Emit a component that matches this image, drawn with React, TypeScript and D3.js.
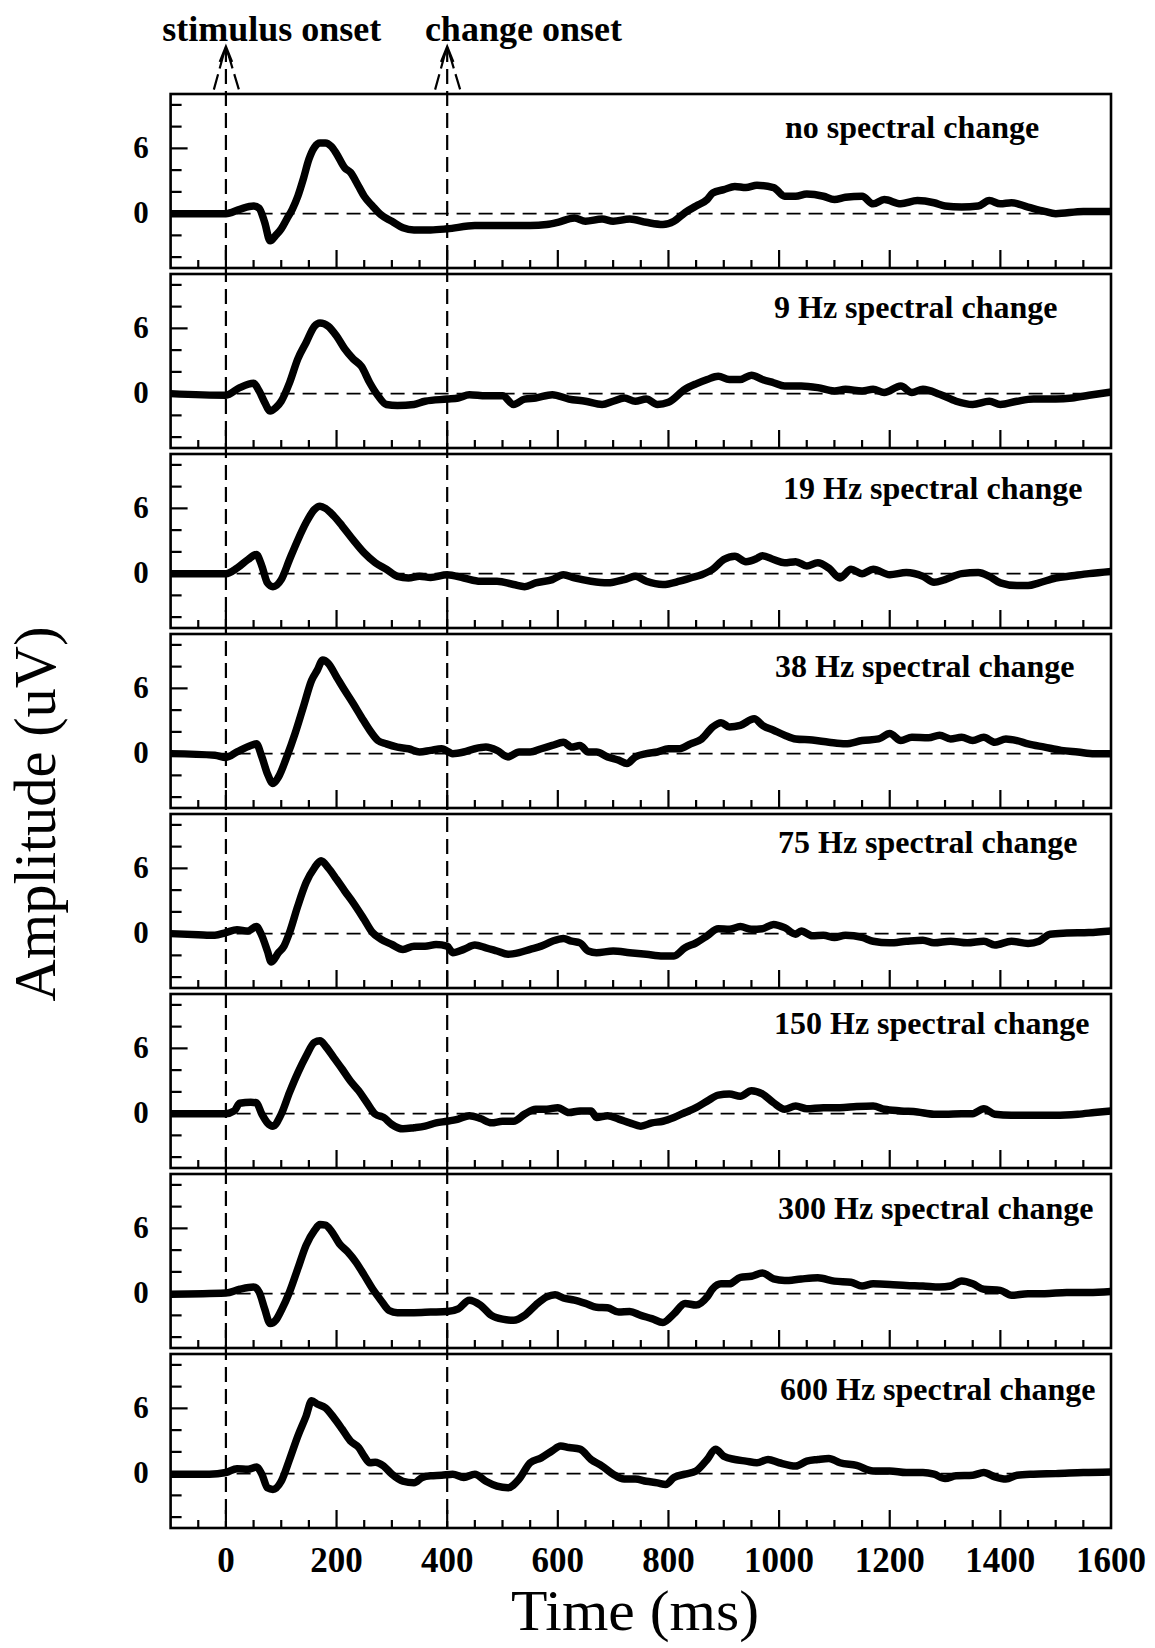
import React from "react";
import * as d3 from "d3";

// ---------- data ----------
const panelLabels = [
  "no spectral change",
  "9 Hz spectral change",
  "19 Hz spectral change",
  "38 Hz spectral change",
  "75 Hz spectral change",
  "150 Hz spectral change",
  "300 Hz spectral change",
  "600 Hz spectral change",
];

const noChange: [number, number][] = [[-100,0],[0,0],[25,0.4],[50,0.7],[60,0.5],[70,-0.8],[80,-2.5],[90,-2.0],[100,-1.4],[110,-0.5],[120,0.4],[130,1.6],[140,3.2],[150,5.0],[160,6.1],[170,6.5],[180,6.5],[190,6.2],[200,5.5],[215,4.2],[225,3.8],[240,2.5],[250,1.6],[265,0.7],[280,-0.1],[300,-0.7],[320,-1.3],[340,-1.5],[370,-1.5],[400,-1.4],[450,-1.1],[500,-1.1],[550,-1.1],[580,-1.0],[600,-0.8],[630,-0.4],[650,-0.7],[680,-0.5],[700,-0.7],[730,-0.5],[760,-0.8],[790,-1.0],[810,-0.7],[830,0.1],[850,0.7],[870,1.3],[880,1.9],[900,2.2],[920,2.5],[940,2.4],[960,2.6],[990,2.4],[1010,1.6],[1030,1.6],[1050,1.8],[1080,1.6],[1100,1.3],[1120,1.5],[1150,1.6],[1170,0.9],[1190,1.3],[1220,0.9],[1250,1.2],[1280,1.0],[1300,0.7],[1330,0.6],[1360,0.7],[1380,1.2],[1400,0.9],[1420,1.0],[1450,0.6],[1480,0.2],[1500,0],[1550,0.2],[1600,0.2]];

const hz9: [number, number][] = [[-100,0],[0,-0.15],[25,0.55],[50,0.95],[60,0.25],[70,-0.8],[80,-1.6],[90,-1.3],[100,-0.7],[115,1.0],[130,3.2],[145,4.7],[160,6.2],[170,6.5],[185,6.2],[200,5.3],[215,4.1],[230,3.2],[245,2.5],[260,1.0],[275,-0.2],[290,-1.0],[310,-1.1],[340,-1.0],[360,-0.7],[400,-0.5],[420,-0.4],[440,-0.1],[470,-0.2],[500,-0.2],[520,-1.0],[540,-0.5],[560,-0.4],[590,-0.1],[620,-0.5],[650,-0.7],[680,-1.0],[700,-0.7],[720,-0.4],[740,-0.7],[760,-0.5],[780,-1.0],[800,-0.8],[830,0.4],[850,0.9],[870,1.3],[890,1.6],[910,1.3],[930,1.3],[950,1.7],[970,1.3],[990,1.0],[1010,0.7],[1040,0.7],[1070,0.55],[1100,0.25],[1120,0.4],[1150,0.25],[1170,0.4],[1190,0.1],[1220,0.7],[1240,0.1],[1260,0.4],[1290,-0.05],[1320,-0.7],[1350,-1.0],[1380,-0.7],[1400,-1.0],[1430,-0.7],[1460,-0.5],[1500,-0.5],[1530,-0.4],[1560,-0.15],[1600,0.15]];

const hz19: [number, number][] = [[-100,0],[0,0],[20,0.5],[40,1.3],[55,1.75],[65,0.7],[75,-0.85],[85,-1.2],[100,-0.55],[115,1.3],[130,3.1],[145,4.7],[160,5.9],[170,6.2],[180,6.0],[195,5.3],[210,4.4],[230,3.1],[250,1.9],[270,1.0],[290,0.4],[310,-0.25],[330,-0.4],[350,-0.25],[370,-0.35],[400,-0.1],[430,-0.4],[460,-0.7],[490,-0.7],[520,-1.0],[540,-1.2],[560,-0.85],[590,-0.55],[610,-0.1],[630,-0.4],[660,-0.7],[690,-0.85],[720,-0.55],[740,-0.25],[760,-0.7],[790,-1.0],[820,-0.7],[840,-0.4],[860,-0.1],[880,0.4],[900,1.3],[920,1.6],[940,1.1],[960,1.4],[970,1.65],[990,1.3],[1010,1.0],[1030,1.1],[1050,0.7],[1070,1.0],[1090,0.5],[1110,-0.4],[1130,0.4],[1150,0],[1170,0.4],[1200,-0.1],[1230,0.1],[1260,-0.25],[1280,-0.8],[1300,-0.55],[1330,0],[1360,0.1],[1380,-0.25],[1400,-0.85],[1430,-1.1],[1450,-1.1],[1470,-0.85],[1500,-0.4],[1530,-0.2],[1560,0],[1600,0.2]];

const hz38: [number, number][] = [[-100,0],[-20,-0.15],[0,-0.35],[20,0.15],[45,0.75],[55,0.9],[65,-0.3],[75,-1.85],[85,-2.75],[95,-2.15],[110,-0.3],[125,1.85],[140,4.3],[155,6.75],[165,7.65],[175,8.6],[185,8.3],[200,7.05],[215,5.8],[230,4.6],[245,3.35],[260,2.15],[275,1.2],[290,0.9],[310,0.6],[330,0.45],[350,0.15],[370,0.3],[390,0.45],[410,0],[430,0.15],[450,0.45],[470,0.6],[490,0.3],[510,-0.3],[530,0.15],[550,0.15],[570,0.45],[590,0.75],[610,1.05],[625,0.6],[640,0.75],[655,0.15],[670,0.15],[690,-0.3],[710,-0.6],[725,-0.9],[740,-0.3],[760,0],[780,0.15],[800,0.45],[820,0.45],[840,0.9],[860,1.35],[880,2.45],[895,2.85],[910,2.45],[930,2.6],[955,3.2],[970,2.6],[990,2.15],[1010,1.7],[1030,1.35],[1060,1.25],[1090,1.05],[1120,0.9],[1150,1.2],[1180,1.35],[1200,1.85],[1220,1.2],[1240,1.5],[1270,1.45],[1290,1.7],[1310,1.35],[1330,1.5],[1350,1.2],[1370,1.5],[1390,1.05],[1410,1.35],[1430,1.2],[1450,0.9],[1480,0.6],[1510,0.3],[1540,0.15],[1570,0],[1600,0]];

const hz75: [number, number][] = [[-100,0],[-50,-0.1],[-20,-0.15],[0,0.1],[20,0.35],[40,0.25],[55,0.65],[65,-0.2],[75,-1.6],[82,-2.6],[95,-1.75],[105,-1.15],[115,0.1],[130,2.55],[145,4.7],[160,6.05],[172,6.7],[185,6.05],[200,5.0],[215,3.9],[230,2.85],[250,1.3],[265,0.1],[280,-0.5],[300,-1.0],[320,-1.45],[340,-1.15],[360,-1.15],[380,-1.0],[400,-1.15],[410,-1.75],[430,-1.45],[450,-1.05],[470,-1.3],[490,-1.6],[510,-1.9],[530,-1.75],[550,-1.45],[570,-1.15],[590,-0.7],[610,-0.45],[625,-0.7],[640,-0.85],[655,-1.6],[670,-1.75],[700,-1.6],[730,-1.75],[760,-1.9],[790,-2.05],[810,-2.05],[830,-1.3],[850,-0.85],[870,-0.2],[890,0.45],[910,0.4],[930,0.65],[950,0.4],[970,0.45],[990,0.85],[1010,0.55],[1030,-0.05],[1040,0.25],[1060,-0.2],[1080,-0.15],[1100,-0.35],[1120,-0.15],[1150,-0.35],[1170,-0.7],[1200,-0.85],[1230,-0.7],[1260,-0.6],[1280,-0.85],[1310,-0.7],[1340,-0.85],[1370,-0.7],[1390,-1.05],[1420,-0.7],[1450,-0.9],[1470,-0.7],[1490,-0.05],[1520,0.05],[1560,0.1],[1600,0.25]];

const hz150: [number, number][] = [[-100,0],[0,0],[15,0.25],[25,0.95],[45,1.05],[55,1.0],[65,-0.05],[75,-0.85],[85,-1.15],[100,-0.05],[115,1.95],[130,3.75],[145,5.3],[160,6.55],[170,6.7],[180,6.2],[195,5.15],[210,4.1],[225,3.0],[240,2.1],[255,1.0],[270,-0.05],[285,-0.35],[300,-1.0],[320,-1.4],[340,-1.3],[360,-1.15],[380,-0.85],[400,-0.7],[420,-0.5],[440,-0.2],[460,-0.45],[480,-0.85],[500,-0.7],[520,-0.7],[540,-0.05],[560,0.4],[580,0.4],[600,0.55],[620,0.1],[640,0.25],[660,0.25],[670,-0.35],[690,-0.2],[710,-0.5],[730,-0.85],[750,-1.15],[770,-0.85],[790,-0.7],[810,-0.35],[830,0.1],[850,0.55],[870,1.15],[890,1.7],[910,1.8],[930,1.6],[950,2.1],[970,1.8],[990,1.0],[1010,0.4],[1030,0.7],[1050,0.45],[1080,0.55],[1110,0.55],[1140,0.65],[1170,0.7],[1190,0.4],[1220,0.25],[1250,0.15],[1280,-0.05],[1300,-0.05],[1330,0],[1350,0],[1370,0.45],[1390,-0.05],[1420,-0.15],[1460,-0.15],[1500,-0.15],[1540,-0.05],[1570,0.1],[1600,0.25]];

const hz300: [number, number][] = [[-100,-0.05],[0,0.05],[25,0.4],[50,0.6],[60,0.15],[70,-1.4],[80,-2.75],[90,-2.45],[100,-1.55],[115,0.15],[130,2.3],[145,4.45],[160,5.8],[170,6.35],[180,6.3],[190,5.8],[205,4.6],[220,3.85],[235,2.9],[250,1.7],[265,0.45],[280,-0.6],[295,-1.55],[310,-1.75],[340,-1.75],[370,-1.7],[400,-1.65],[420,-1.4],[440,-0.6],[460,-1.05],[480,-2.0],[500,-2.35],[520,-2.45],[540,-2.0],[560,-1.05],[580,-0.3],[595,-0.1],[610,-0.4],[630,-0.6],[650,-0.9],[670,-1.25],[690,-1.3],[710,-1.7],[730,-1.65],[750,-2.0],[770,-2.3],[790,-2.65],[810,-1.85],[830,-0.9],[850,-1.05],[870,-0.3],[880,0.45],[895,0.9],[910,0.9],[930,1.5],[950,1.6],[970,1.9],[990,1.35],[1010,1.2],[1040,1.35],[1070,1.45],[1100,1.15],[1130,1.05],[1150,0.7],[1170,0.9],[1200,0.85],[1230,0.75],[1260,0.7],[1290,0.6],[1310,0.7],[1330,1.15],[1350,0.9],[1370,0.4],[1400,0.3],[1420,-0.15],[1450,0],[1480,0],[1520,0.1],[1560,0.1],[1600,0.2]];

const hz600: [number, number][] = [[-100,-0.05],[-30,-0.05],[0,0.1],[20,0.45],[40,0.4],[55,0.6],[65,-0.05],[75,-1.3],[85,-1.45],[100,-0.7],[115,1.3],[130,3.45],[145,5.3],[155,6.7],[165,6.4],[180,6.05],[195,5.15],[210,4.1],[225,3.0],[240,2.4],[250,1.6],[260,1.0],[270,1.05],[285,0.7],[300,-0.05],[320,-0.7],[340,-0.85],[355,-0.35],[370,-0.2],[390,-0.15],[410,-0.05],[430,-0.35],[450,-0.05],[470,-0.7],[490,-1.15],[510,-1.3],[530,-0.5],[550,1.0],[570,1.45],[590,2.1],[605,2.55],[620,2.4],[640,2.25],[660,1.3],[680,0.7],[700,-0.05],[720,-0.5],[740,-0.5],[760,-0.7],[780,-0.85],[795,-1.0],[810,-0.35],[830,-0.05],[850,0.25],[870,1.3],[885,2.25],[900,1.6],[920,1.3],[940,1.15],[960,1.0],[980,1.3],[1000,1.0],[1030,0.7],[1050,1.15],[1070,1.3],[1090,1.4],[1110,1.0],[1140,0.75],[1170,0.25],[1200,0.25],[1230,0.1],[1260,0.1],[1280,-0.05],[1300,-0.45],[1320,-0.2],[1350,-0.15],[1370,0.1],[1390,-0.3],[1410,-0.5],[1430,-0.15],[1460,-0.05],[1500,0],[1550,0.1],[1600,0.15]];

const seriesList = [noChange, hz9, hz19, hz38, hz75, hz150, hz300, hz600];

const xTickLabels = [0, 200, 400, 600, 800, 1000, 1200, 1400, 1600];
const yTickLabels = [0, 6];
const yMinorTicks = [-4, -2, 0, 2, 4, 6, 8, 10];
const onsets = [
  { t: 0, text: "stimulus onset" },
  { t: 400, text: "change onset" },
];

// ---------- layout ----------
const W = 1155;
const H = 1648;
const PANEL_TOP = 94;
const PANEL_STEP = 180;
const PANEL_H = 174;
const X_LEFT = 170.6;
const X_RIGHT = 1111;
const onsetLabelX = [271.7, 523.4];
const labelLayout = [
  { x: 785, dy: 44 },
  { x: 774, dy: 44 },
  { x: 783, dy: 45 },
  { x: 775, dy: 43 },
  { x: 778, dy: 39 },
  { x: 774, dy: 40 },
  { x: 778, dy: 45 },
  { x: 780, dy: 46 },
];
const FONT = "'Liberation Serif', 'Times New Roman', Times, serif";

export default function App() {
  const x = d3.scaleLinear().domain([-100, 1600]).range([X_LEFT, X_RIGHT]);
  const lastBottom = PANEL_TOP + PANEL_STEP * 7 + PANEL_H;
  const minorX = d3.range(-50, 1600, 50);

  return (
    <svg
      width={W}
      height={H}
      viewBox={`0 0 ${W} ${H}`}
      style={{ position: "absolute", left: 0, top: 0, background: "#fff" }}
      fontFamily={FONT}
    >
      <rect x={0} y={0} width={W} height={H} fill="#fff" />

      {/* onset annotations */}
      {onsets.map((o, i) => {
        const cx = x(o.t);
        const tipY = 47;
        return (
          <g key={"on" + i}>
            <text x={onsetLabelX[i]} y={41} fontSize={36} fontWeight="bold" textAnchor="middle">
              {o.text}
            </text>
            <line x1={cx} y1={tipY} x2={cx} y2={lastBottom} stroke="#000" strokeWidth={2.2} strokeDasharray="15,7" />
            <path d={`M${cx - 6},${tipY + 15} L${cx},${tipY} L${cx + 6},${tipY + 15}`} fill="none" stroke="#000" strokeWidth={2.6} />
            <line x1={cx - 2} y1={tipY + 6} x2={cx - 13} y2={93} stroke="#000" strokeWidth={2.2} strokeDasharray="16,6" />
            <line x1={cx + 2} y1={tipY + 6} x2={cx + 14} y2={93} stroke="#000" strokeWidth={2.2} strokeDasharray="16,6" />
          </g>
        );
      })}

      {seriesList.map((data, k) => {
        const top = PANEL_TOP + PANEL_STEP * k;
        const y = d3.scaleLinear().domain([-5, 11]).range([top + PANEL_H, top]);
        const line = d3
          .line<[number, number]>()
          .x((d) => x(d[0]))
          .y((d) => y(d[1]))
          .curve(d3.curveMonotoneX);
        const bottom = top + PANEL_H;
        return (
          <g key={"p" + k}>
            <rect x={X_LEFT} y={top} width={X_RIGHT - X_LEFT} height={PANEL_H} fill="none" stroke="#000" strokeWidth={2.6} />
            {yMinorTicks.map((v) => (
              <line
                key={"yt" + v}
                x1={X_LEFT}
                x2={X_LEFT + (yTickLabels.includes(v) ? 17 : 11)}
                y1={y(v)}
                y2={y(v)}
                stroke="#000"
                strokeWidth={2.2}
              />
            ))}
            {yTickLabels.map((v) => (
              <text key={"yl" + v} x={141} y={y(v)} dy="0.3em" fontSize={31} fontWeight="bold" textAnchor="middle">
                {v}
              </text>
            ))}
            {minorX.map((t) => (
              <line
                key={"xt" + t}
                x1={x(t)}
                x2={x(t)}
                y1={bottom}
                y2={bottom - (t % 200 === 0 ? 18 : 8)}
                stroke="#000"
                strokeWidth={2.2}
              />
            ))}
            <line x1={X_LEFT} x2={X_RIGHT} y1={y(0)} y2={y(0)} stroke="#000" strokeWidth={1.8} strokeDasharray="14,8" />
            <path d={line(data) || ""} fill="none" stroke="#000" strokeWidth={7.5} strokeLinejoin="round" />
            <text x={labelLayout[k].x} y={top + labelLayout[k].dy} fontSize={32} fontWeight="bold">
              {panelLabels[k]}
            </text>
          </g>
        );
      })}

      {xTickLabels.map((t) => (
        <text key={"xl" + t} x={x(t)} y={1572} fontSize={35} fontWeight="bold" textAnchor="middle">
          {t}
        </text>
      ))}

      <text x={635} y={1630} fontSize={58} textAnchor="middle" textLength={248} lengthAdjust="spacingAndGlyphs">
        Time (ms)
      </text>
      <text
        transform={`translate(55, 814) rotate(-90)`}
        fontSize={60}
        textAnchor="middle"
        textLength={375}
        lengthAdjust="spacingAndGlyphs"
      >
        Amplitude (uV)
      </text>
    </svg>
  );
}
